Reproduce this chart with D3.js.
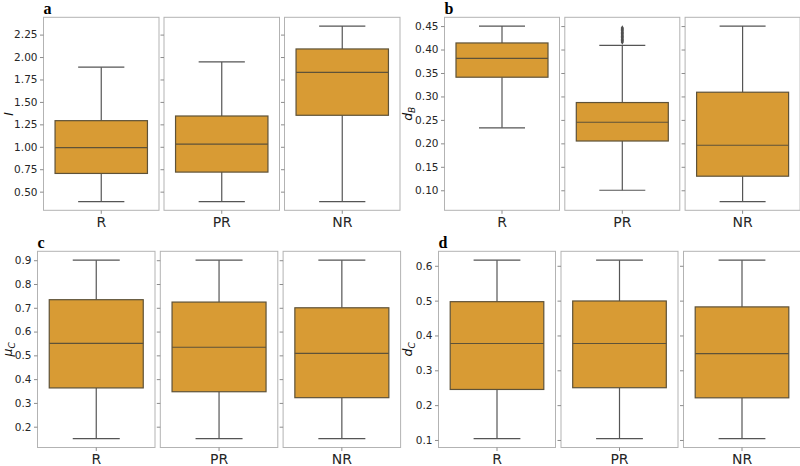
<!DOCTYPE html>
<html lang="en">
<head>
<meta charset="UTF-8">
<title>Box plots by group</title>
<script src="https://d3js.org/d3.v7.min.js"></script>
<style>
    body { margin: 0; background: #fff; }
    svg { display: block; }
    .tick text { font-family: "DejaVu Sans", sans-serif; fill: #262626; }
</style>
</head>
<body>
<svg id="chart" width="800" height="466"></svg>
<script>
    // Data: [lower whisker, Q1, median, Q3, upper whisker] per group
    const groups = ['R', 'PR', 'NR'];

    const iStats = [
        [0.39, 0.703, 0.991, 1.291, 1.887],
        [0.39, 0.718, 1.029, 1.343, 1.946],
        [0.39, 1.351, 1.828, 2.090, 2.345]
    ];
    const dBStats = [
        [0.233, 0.341, 0.381, 0.414, 0.450],
        [0.100, 0.205, 0.245, 0.287, 0.409],
        [0.076, 0.130, 0.196, 0.309, 0.450]
    ];
    const dBOutliers = [
        [],
        [0.416, 0.419, 0.422, 0.425, 0.428, 0.431, 0.434, 0.437, 0.440, 0.443, 0.446],
        []
    ];
    const muCStats = [
        [0.15, 0.363, 0.550, 0.734, 0.90],
        [0.15, 0.347, 0.534, 0.724, 0.90],
        [0.15, 0.322, 0.508, 0.700, 0.90]
    ];
    const dCStats = [
        [0.104, 0.245, 0.377, 0.497, 0.616],
        [0.104, 0.250, 0.377, 0.499, 0.616],
        [0.104, 0.221, 0.348, 0.482, 0.616]
    ];

    const iTicks = [0.50, 0.75, 1.00, 1.25, 1.50, 1.75, 2.00, 2.25];
    const dBTicks = [0.10, 0.15, 0.20, 0.25, 0.30, 0.35, 0.40, 0.45];
    const muCTicks = [0.2, 0.3, 0.4, 0.5, 0.6, 0.7, 0.8, 0.9];
    const dCTicks = [0.1, 0.2, 0.3, 0.4, 0.5, 0.6];

    const boxFill = '#d89b34';
    const lineColor = '#555555';
    const frameColor = '#b3b3b3';

    const panels = [
        { letter: 'a', stats: iStats, outliers: null, ticks: iTicks, fmt: '.2f', label: ['I', null],
          left: 43.5, w: 115.5, gap: 5, top: 17.3, bottom: 210.3, labelX: 13 },
        { letter: 'b', stats: dBStats, outliers: dBOutliers, ticks: dBTicks, fmt: '.2f', label: ['d', 'B'],
          left: 444.5, w: 115, gap: 5.3, top: 17.3, bottom: 210.3, labelX: 412 },
        { letter: 'c', stats: muCStats, outliers: null, ticks: muCTicks, fmt: '.1f', label: ['\u03bc', 'C'],
          left: 37.5, w: 117.5, gap: 5.3, top: 251.3, bottom: 447.5, labelX: 12 },
        { letter: 'd', stats: dCStats, outliers: null, ticks: dCTicks, fmt: '.1f', label: ['d', 'C'],
          left: 438.5, w: 117, gap: 5.5, top: 251.3, bottom: 447.5, labelX: 412 }
    ];

    const svg = d3.select('#chart');

    panels.forEach(p => {
        // shared y domain across the three groups, 5% padding like matplotlib
        const all = p.stats.flat().concat(p.outliers ? p.outliers.flat() : []);
        const [lo, hi] = d3.extent(all);
        const pad = (hi - lo) * 0.05;
        const y = d3.scaleLinear().domain([lo - pad, hi + pad]).range([p.bottom, p.top]);

        groups.forEach((g, i) => {
            const x0 = p.left + i * (p.w + p.gap);
            const x = d3.scaleBand().domain([g]).range([x0, x0 + p.w])
                .paddingInner(0.2).paddingOuter(0.1);
            const s = p.stats[i];
            const cx = x(g) + x.bandwidth() / 2;
            const capHalf = x.bandwidth() / 4;

            const sub = svg.append('g');

            // frame
            sub.append('rect')
                .attr('x', x0).attr('y', p.top)
                .attr('width', p.w).attr('height', p.bottom - p.top)
                .attr('fill', 'none').attr('stroke', frameColor).attr('stroke-width', 1);

            // y axis
            const yAxis = sub.append('g')
                .attr('transform', `translate(${x0},0)`)
                .call(d3.axisLeft(y).tickValues(p.ticks).tickSize(3.5).tickPadding(2.5)
                    .tickFormat(i === 0 ? d3.format(p.fmt) : () => ''));
            yAxis.select('.domain').remove();
            yAxis.selectAll('.tick line').attr('stroke', '#8c8c8c');
            yAxis.selectAll('.tick text').attr('font-size', 10.5);

            // x axis
            const xAxis = sub.append('g')
                .attr('transform', `translate(0,${p.bottom})`)
                .call(d3.axisBottom(x).tickSize(3.5).tickPadding(3.5));
            xAxis.select('.domain').remove();
            xAxis.selectAll('.tick line').attr('stroke', '#8c8c8c');
            xAxis.selectAll('.tick text').attr('font-size', 14).attr('fill', '#111');

            // whiskers
            sub.append('line')
                .attr('x1', cx).attr('x2', cx).attr('y1', y(s[0])).attr('y2', y(s[1]))
                .attr('stroke', lineColor).attr('stroke-width', 1.2);
            sub.append('line')
                .attr('x1', cx).attr('x2', cx).attr('y1', y(s[3])).attr('y2', y(s[4]))
                .attr('stroke', lineColor).attr('stroke-width', 1.2);
            [s[0], s[4]].forEach(v => {
                sub.append('line')
                    .attr('x1', cx - capHalf).attr('x2', cx + capHalf)
                    .attr('y1', y(v)).attr('y2', y(v))
                    .attr('stroke', lineColor).attr('stroke-width', 1.2);
            });

            // box
            sub.append('rect')
                .attr('x', x(g)).attr('y', y(s[3]))
                .attr('width', x.bandwidth()).attr('height', y(s[1]) - y(s[3]))
                .attr('fill', boxFill).attr('stroke', '#5e5238').attr('stroke-width', 1.2);

            // median
            sub.append('line')
                .attr('x1', x(g)).attr('x2', x(g) + x.bandwidth())
                .attr('y1', y(s[2])).attr('y2', y(s[2]))
                .attr('stroke', '#5e5238').attr('stroke-width', 1.2);

            // outliers
            if (p.outliers) {
                sub.selectAll('.flier')
                    .data(p.outliers[i])
                    .enter().append('path')
                    .attr('class', 'flier')
                    .attr('transform', d => `translate(${cx},${y(d)})`)
                    .attr('d', d3.symbol().type(d3.symbolDiamond).size(9))
                    .attr('fill', '#505050');
            }
        });

        // y label
        const lbl = svg.append('text')
            .attr('transform', `translate(${p.labelX},${(p.top + p.bottom) / 2}) rotate(-90)`)
            .attr('text-anchor', 'middle')
            .attr('font-family', 'DejaVu Sans, sans-serif')
            .attr('font-style', 'italic')
            .attr('font-size', 12.5)
            .attr('fill', '#111');
        lbl.append('tspan').text(p.label[0]);
        if (p.label[1]) {
            lbl.append('tspan').attr('font-size', 9).attr('dy', 3).text(p.label[1]);
        }

        // panel letter
        svg.append('text')
            .attr('x', p.left)
            .attr('y', p.top - 3.5)
            .attr('font-family', 'Liberation Serif, serif')
            .attr('font-weight', 'bold')
            .attr('font-size', 16)
            .attr('fill', '#000')
            .text(p.letter);
    });
</script>
</body>
</html>
